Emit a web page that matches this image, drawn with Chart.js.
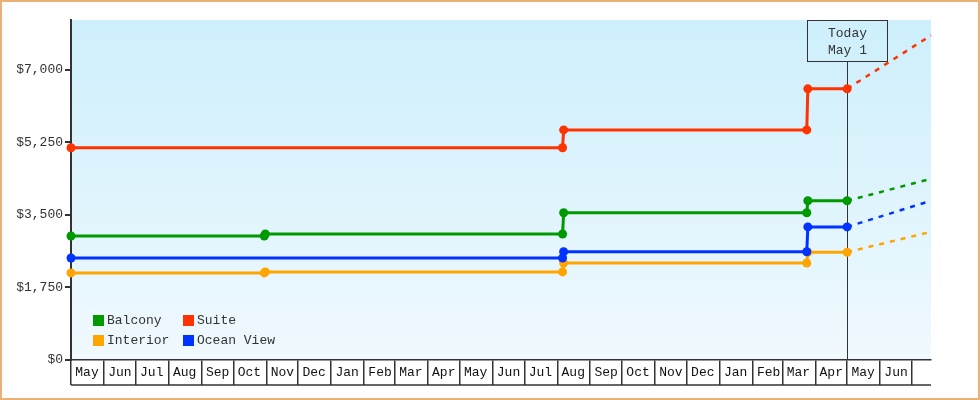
<!DOCTYPE html>
<html lang="en">
<head>
<meta charset="UTF-8">
<title>Cruise cabin fares</title>
<script src="https://cdn.jsdelivr.net/npm/chart.js"></script>
<style>
  html, body { margin: 0; padding: 0; background: #fff; }
  .frame {
    width: 980px;
    height: 400px;
    box-sizing: border-box;
    border: 2px solid #eab077;
    background: #fff;
  }
  canvas { display: block; }
</style>
</head>
<body>
<div class="frame"><canvas id="chart" width="976" height="396"></canvas></div>
<script>
// --- data -------------------------------------------------------------
const startDate = '2023-05-01';
const todayDate = '2025-05-01';
const endDate = '2025-07-19';

const monthLabels = ['May', 'Jun', 'Jul', 'Aug', 'Sep', 'Oct', 'Nov', 'Dec',
  'Jan', 'Feb', 'Mar', 'Apr', 'May', 'Jun', 'Jul', 'Aug', 'Sep', 'Oct',
  'Nov', 'Dec', 'Jan', 'Feb', 'Mar', 'Apr', 'May', 'Jun'];
const yTicks = [0, 1750, 3500, 5250, 7000];

// price change dates (last one is the projection end)
const priceDates = ['2023-05-01', '2023-10-30', '2023-10-31', '2024-08-06',
  '2024-08-07', '2025-03-24', '2025-03-25', '2025-05-01', '2025-07-19'];
const balcony   = [2990, 2990, 3040, 3040, 3550, 3550, 3840, 3840, 4370];
const suite     = [5120, null, null, 5120, 5550, 5550, 6540, 6540, 7830];
const interior  = [2100, 2100, 2125, 2125, 2340, 2340, 2600, 2600, 3090];
const oceanView = [2460, null, null, 2460, 2610, 2610, 3210, 3210, 3840];

// --- helpers ----------------------------------------------------------
const FONT = '"Liberation Mono", "DejaVu Sans Mono", monospace';
const INK = '#333';

function dayOf(s) {
  return (Date.parse(s) - Date.parse(startDate)) / 86400000;
}

// month boundaries, May 2023 .. Jul 2025
const monthStarts = [];
for (let i = 0; i <= monthLabels.length; i++) {
  monthStarts.push((Date.UTC(2023, 4 + i, 1) - Date.parse(startDate)) / 86400000);
}

const lastIdx = priceDates.length - 1;

function series(label, values, color) {
  return {
    label: label,
    data: values.map((v, i) => ({ x: dayOf(priceDates[i]), y: v })),
    borderColor: color,
    backgroundColor: color,
    borderWidth: 3,
    tension: 0,
    spanGaps: true,
    clip: false,
    pointRadius: ctx => ctx.dataIndex === lastIdx ? 0 : 4.5,
    pointBorderWidth: 0,
    pointBackgroundColor: color,
    segment: {
      borderDash: ctx => ctx.p1DataIndex === lastIdx ? [5, 6] : undefined,
      borderWidth: ctx => ctx.p1DataIndex === lastIdx ? 2.5 : undefined
    }
  };
}

const colors = {
  balcony: '#009900',
  suite: '#ff3300',
  interior: '#ffa500',
  oceanView: '#0033ff'
};

// --- plugins ----------------------------------------------------------
const plotBackground = {
  id: 'plotBackground',
  beforeDraw(chart) {
    const { ctx, chartArea: a } = chart;
    const g = ctx.createLinearGradient(0, a.top, 0, a.bottom);
    g.addColorStop(0, '#cdeffc');
    g.addColorStop(1, '#f0f9fe');
    ctx.save();
    ctx.fillStyle = g;
    ctx.fillRect(a.left, a.top, a.right - a.left, a.bottom - a.top);
    ctx.restore();
  }
};

const todayMarker = {
  id: 'todayMarker',
  beforeDatasetsDraw(chart) {
    const { ctx, chartArea: a } = chart;
    const x = Math.round(chart.scales.x.getPixelForValue(dayOf(todayDate))) + 0.5;
    const boxTop = a.top + 0.5;
    const boxH = 41;
    ctx.save();
    ctx.strokeStyle = INK;
    ctx.lineWidth = 1;
    ctx.beginPath();
    ctx.moveTo(x, boxTop + boxH);
    ctx.lineTo(x, a.bottom);
    ctx.stroke();
    ctx.strokeRect(x - 40, boxTop, 80, boxH);
    ctx.fillStyle = INK;
    ctx.font = '13px ' + FONT;
    ctx.textAlign = 'center';
    ctx.textBaseline = 'middle';
    ctx.fillText('Today', x, boxTop + 13);
    ctx.fillText('May 1', x, boxTop + 30);
    ctx.restore();
  }
};

const labelRow = {
  id: 'labelRow',
  afterDraw(chart) {
    const { ctx } = chart;
    const xs = chart.scales.x;
    const y = xs.top + 25;
    ctx.save();
    ctx.strokeStyle = INK;
    ctx.lineWidth = 1.5;
    ctx.beginPath();
    ctx.moveTo(xs.left, y);
    ctx.lineTo(xs.right, y);
    ctx.stroke();
    ctx.restore();
  }
};

const cornerLegend = {
  id: 'cornerLegend',
  afterDraw(chart) {
    const { ctx, chartArea: a } = chart;
    const items = [
      ['Balcony', colors.balcony, 0, 0],
      ['Suite', colors.suite, 1, 0],
      ['Interior', colors.interior, 0, 1],
      ['Ocean View', colors.oceanView, 1, 1]
    ];
    ctx.save();
    ctx.font = '13px ' + FONT;
    ctx.textBaseline = 'middle';
    ctx.textAlign = 'left';
    items.forEach(([name, color, col, row]) => {
      const bx = a.left + 22 + col * 90;
      const by = a.bottom - 45 + row * 20;
      ctx.fillStyle = color;
      ctx.fillRect(bx, by, 11, 11);
      ctx.fillStyle = INK;
      ctx.fillText(name, bx + 14, by + 6);
    });
    ctx.restore();
  }
};

// --- chart ------------------------------------------------------------
Chart.defaults.font.family = FONT;
Chart.defaults.font.size = 13;
Chart.defaults.color = INK;

new Chart(document.getElementById('chart'), {
  type: 'line',
  data: {
    datasets: [
      series('Balcony', balcony, colors.balcony),
      series('Suite', suite, colors.suite),
      series('Ocean View', oceanView, colors.oceanView),
      series('Interior', interior, colors.interior)
    ]
  },
  options: {
    responsive: false,
    animation: false,
    events: [],
    layout: { padding: { left: 0, top: 18, right: 47, bottom: 12 } },
    plugins: {
      legend: { display: false },
      tooltip: { enabled: false }
    },
    scales: {
      x: {
        type: 'linear',
        min: 0,
        max: dayOf(endDate),
        afterBuildTicks(scale) {
          scale.ticks = monthStarts.map(v => ({ value: v }));
        },
        afterFit(scale) { scale.height = 26; },
        border: { display: true, color: INK, width: 1.5 },
        grid: {
          drawOnChartArea: false,
          tickLength: 25,
          color: INK,
          lineWidth: 1.5
        },
        ticks: {
          autoSkip: false,
          maxRotation: 0,
          minRotation: 0,
          padding: -20,
          labelOffset: 16,
          color: '#111',
          callback: (v, i) => monthLabels[i] || ''
        }
      },
      y: {
        min: 0,
        max: 8200,
        afterBuildTicks(scale) {
          scale.ticks = yTicks.map(v => ({ value: v }));
        },
        afterFit(scale) { scale.width = 69; },
        border: { display: true, color: INK, width: 2 },
        grid: {
          drawOnChartArea: false,
          tickLength: 6,
          color: INK,
          lineWidth: 2
        },
        ticks: {
          padding: 2,
          callback: v => '$' + v.toLocaleString('en-US')
        }
      }
    }
  },
  plugins: [plotBackground, todayMarker, labelRow, cornerLegend]
});
</script>
</body>
</html>
